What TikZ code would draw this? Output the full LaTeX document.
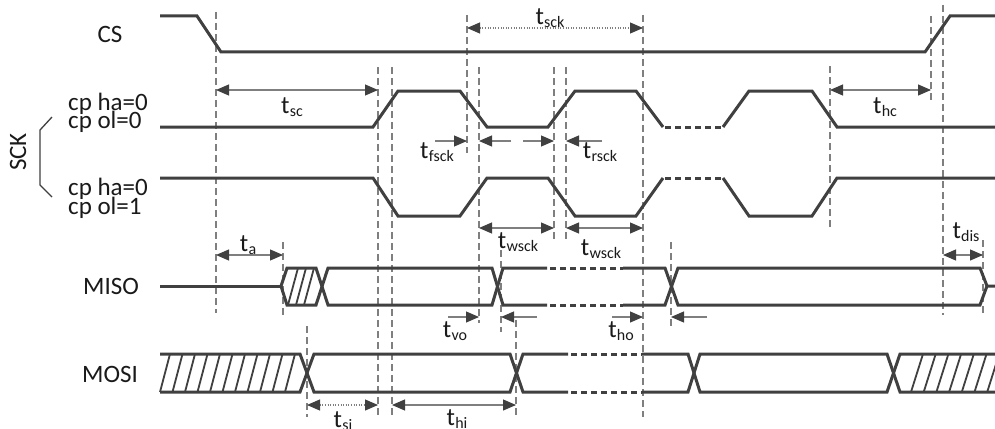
\documentclass[tikz,border=0pt]{standalone}
\usepackage{fontspec}
\setmainfont{Carlito}
\usetikzlibrary{arrows.meta}
\definecolor{sig}{HTML}{404040}
\definecolor{guide}{HTML}{7F7F7F}
\definecolor{txt}{HTML}{1A1A1A}
\newcommand{\tlab}[1]{t\kern0.3pt\raisebox{-3pt}{\fontsize{16}{16}\selectfont #1}}
\begin{document}
\begin{tikzpicture}[x=1pt,y=-1pt,
  sigline/.style={draw=sig, line width=3pt, line join=miter},
  sigdash/.style={draw=sig, line width=3pt, dash pattern=on 6pt off 4pt},
  guideline/.style={draw=guide, line width=1.1pt, dash pattern=on 7pt off 4pt},
  hatchline/.style={draw=sig, line width=1.8pt},
  bracket/.style={draw=sig, line width=1.3pt},
  dimboth/.style={draw=guide, line width=1.1pt, {Triangle[length=13pt,width=11pt,color=sig]}-{Triangle[length=13pt,width=11pt,color=sig]}},
  dimend/.style={draw=guide, line width=1.1pt, -{Triangle[length=13pt,width=11pt,color=sig]}},
  dimdot/.style={dimboth, dash pattern=on 1pt off 1.6pt},
  lbl/.style={inner sep=0pt, text=txt, font=\fontsize{25}{28}\selectfont}
]
\useasboundingbox (0,0) rectangle (995,428);
\fill[white] (0,0) rectangle (995,428);

% guide coordinates (tops and bottoms)
\coordinate (g1t) at (216,12);  \coordinate (g1b) at (216,313);
\coordinate (g2t) at (378,67);  \coordinate (g2b) at (378,417);
\coordinate (g3t) at (392,67);  \coordinate (g3b) at (392,417);
\coordinate (g4t) at (467,15);  \coordinate (g4b) at (467,153);
\coordinate (g5t) at (479,67);  \coordinate (g5b) at (479,323);
\coordinate (g6t) at (554,67);  \coordinate (g6b) at (554,240);
\coordinate (g7t) at (566,67);  \coordinate (g7b) at (566,240);
\coordinate (g8t) at (643,15);  \coordinate (g8b) at (643,417);
\coordinate (g9t) at (501,250); \coordinate (g9b) at (501,332);
\coordinate (g10t) at (516,320); \coordinate (g10b) at (516,417);
\coordinate (g11t) at (830,66); \coordinate (g11b) at (830,228);
\coordinate (g12t) at (931,16); \coordinate (g12b) at (931,103);
\coordinate (g13t) at (943,5);  \coordinate (g13b) at (943,315);
\coordinate (g14t) at (983,240); \coordinate (g14b) at (983,315);
\coordinate (g15t) at (283,242); \coordinate (g15b) at (283,315);
\coordinate (g16t) at (307,326); \coordinate (g16b) at (307,417);
\coordinate (g17t) at (671,242); \coordinate (g17b) at (671,328);

\foreach \g in {1,...,17} \draw[guideline] (g\g t) -- (g\g b);

% measurement levels
\coordinate (ysck) at (0,28);
\coordinate (ysc) at (0,90);
\coordinate (yf) at (0,141);
\coordinate (yw) at (0,228);
\coordinate (ya) at (0,255);
\coordinate (yv) at (0,317);
\coordinate (ys) at (0,405);

% free ends of single arrows
\coordinate (f1) at (435,141);
\coordinate (f2) at (511,141);
\coordinate (f3) at (523,141);
\coordinate (f4) at (602,141);
\coordinate (f5) at (448,317);
\coordinate (f6) at (537,317);
\coordinate (f7) at (612,317);
\coordinate (f8) at (707,317);

% CS
\draw[sigline] (160,16) -- (197,16) -- (221,52) -- (925,52) -- (950,16) -- (995,16);

% SCK cpol=0
\draw[sigline] (160,127) -- (373,127) -- (398,91) -- (460,91) -- (487,127) -- (548,127) -- (575,91) -- (636,91) -- (663,127);
\draw[sigdash] (665,127) -- (723,127);
\draw[sigline] (723,127) -- (749,91) -- (812,91) -- (837,127) -- (995,127);

% SCK cpol=1
\draw[sigline] (160,178) -- (373,178) -- (398,216) -- (460,216) -- (487,178) -- (548,178) -- (575,216) -- (636,216) -- (663,178);
\draw[sigdash] (665,178) -- (723,178);
\draw[sigline] (723,178) -- (749,216) -- (812,216) -- (837,178) -- (995,178);

% MISO
\draw[sigline] (160,286) -- (281,286);
\draw[sigline] (281,286) -- (287,268) -- (316,268) -- (328,305) -- (492,305) -- (503,268) -- (547,268);
\draw[sigline] (281,286) -- (287,305) -- (316,305) -- (328,268) -- (492,268) -- (503,305) -- (547,305);
\draw[sigdash] (550,268) -- (623,268);
\draw[sigdash] (550,305) -- (623,305);
\draw[sigline] (623,268) -- (665,268) -- (678,305) -- (980,305) -- (987,286) -- (995,286);
\draw[sigline] (623,305) -- (665,305) -- (678,268) -- (980,268) -- (987,286);
\foreach \b in {288,296,304} \draw[hatchline] (\b,305) -- ({\b+10},268);

% MOSI
\draw[sigline] (160,354) -- (300,354) -- (314,392) -- (510,392) -- (523,354) -- (568,354);
\draw[sigline] (160,392) -- (300,392) -- (314,354) -- (510,354) -- (523,392) -- (568,392);
\draw[sigdash] (571,354) -- (642,354);
\draw[sigdash] (571,392) -- (642,392);
\draw[sigline] (642,354) -- (688,354) -- (700,392) -- (887,392) -- (900,354) -- (995,354);
\draw[sigline] (642,392) -- (688,392) -- (700,354) -- (887,354) -- (900,392) -- (995,392);
\foreach \k in {0,...,10} \draw[hatchline] ({160+12.5*\k},392) -- ({170+12.5*\k},354);
\foreach \k in {0,...,6} \draw[hatchline] ({911+12.7*\k},392) -- ({923+12.7*\k},354);

% SCK bracket
\draw[bracket] (52,117) -- (40,130) -- (40,185) -- (52,197);

% measurement arrows
\draw[dimdot] (g4t |- ysck) -- (g8t |- ysck);
\draw[dimboth] (g1t |- ysc) -- (g2t |- ysc);
\draw[dimboth] (g11t |- ysc) -- (g12t |- ysc);
\draw[dimend] (f1) -- (g4t |- yf);
\draw[dimend] (f2) -- (g5t |- yf);
\draw[dimend] (f3) -- (g6t |- yf);
\draw[dimend] (f4) -- (g7t |- yf);
\draw[dimboth] (g5t |- yw) -- (g6t |- yw);
\draw[dimboth] (g7t |- yw) -- (g8t |- yw);
\draw[dimboth] (g1t |- ya) -- (g15t |- ya);
\draw[dimboth] (g13t |- ya) -- (g14t |- ya);
\draw[dimend] (f5) -- (g5t |- yv);
\draw[dimend] (f6) -- (g9t |- yv);
\draw[dimend] (f7) -- (g8t |- yv);
\draw[dimend] (f8) -- (g17t |- yv);
\draw[dimdot] (g16t |- ys) -- (g2t |- ys);
\draw[dimboth] (g3t |- ys) -- (g10t |- ys);

% signal names
\node[lbl, anchor=base] (cs) at (110,43) {CS};
\node[lbl, anchor=base west] (cph1) at (68,110) {cp ha=0};
\node[lbl, anchor=base west] (cpo1) at (68,128) {cp ol=0};
\node[lbl, anchor=base west] (cph2) at (68,195) {cp ha=0};
\node[lbl, anchor=base west] (cpo2) at (68,214) {cp ol=1};
\node[lbl, rotate=90] (sck) at (18,152) {SCK};
\node[lbl, anchor=base] (miso) at (111,294) {MISO};
\node[lbl, anchor=base] (mosi) at (110,382) {MOSI};

% timing labels
\node[lbl, anchor=base] (lsck) at (550,25) {\tlab{sck}};
\node[lbl, anchor=base] (lsc) at (292,113) {\tlab{sc}};
\node[lbl, anchor=base] (lhc) at (885,113) {\tlab{hc}};
\node[lbl, anchor=base] (lfsck) at (437,158) {\tlab{fsck}};
\node[lbl, anchor=base] (lrsck) at (600,158) {\tlab{rsck}};
\node[lbl, anchor=base] (lw1) at (518,248) {\tlab{wsck}};
\node[lbl, anchor=base] (lw2) at (601,255) {\tlab{wsck}};
\node[lbl, anchor=base] (la) at (248,251) {\tlab{a}};
\node[lbl, anchor=base] (ldis) at (966,238) {\tlab{dis}};
\node[lbl, anchor=base] (lvo) at (455,337) {\tlab{vo}};
\node[lbl, anchor=base] (lho) at (621,337) {\tlab{ho}};
\node[lbl, anchor=base] (lsi) at (343,427) {\tlab{si}};
\node[lbl, anchor=base] (lhi) at (457,425) {\tlab{hi}};
\end{tikzpicture}
\end{document}
